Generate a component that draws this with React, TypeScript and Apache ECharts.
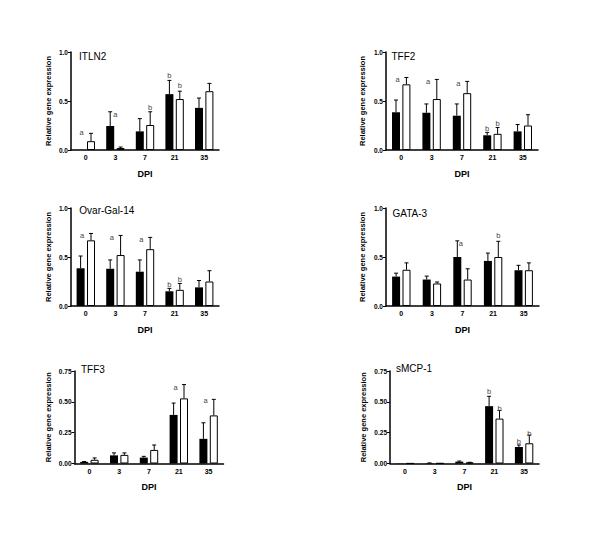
import React, { useEffect, useRef } from "react";
import * as echarts from "echarts";

const CATEGORIES = ["0", "3", "7", "21", "35"];

// ITLN2
const ITLN2_BLACK = [0, 0.245, 0.19, 0.57, 0.43];
const ITLN2_BLACK_ERR = [0, 0.39, 0.32, 0.71, 0.53];
const ITLN2_WHITE = [0.09, 0.02, 0.255, 0.52, 0.6];
const ITLN2_WHITE_ERR = [0.17, 0.03, 0.39, 0.6, 0.68];
const ITLN2_LETTERS = [
  { cat: 0, y: 0.18, text: "a", side: -0.8 },
  { cat: 1, y: 0.365, text: "a", side: 0 },
  { cat: 2, y: 0.43, text: "b", side: 1 },
  { cat: 3, y: 0.765, text: "b", side: -1 },
  { cat: 3, y: 0.655, text: "b", side: 1 },
];

// TFF2
const TFF2_BLACK = [0.385, 0.38, 0.35, 0.15, 0.19];
const TFF2_BLACK_ERR = [0.51, 0.47, 0.47, 0.18, 0.26];
const TFF2_WHITE = [0.67, 0.52, 0.58, 0.165, 0.25];
const TFF2_WHITE_ERR = [0.74, 0.72, 0.7, 0.23, 0.36];
const TFF2_LETTERS = [
  { cat: 0, y: 0.72, text: "a", side: -0.7 },
  { cat: 1, y: 0.7, text: "a", side: -0.7 },
  { cat: 2, y: 0.68, text: "a", side: -0.7 },
  { cat: 3, y: 0.22, text: "b", side: -1 },
  { cat: 3, y: 0.27, text: "b", side: 1 },
];

// Ovar-Gal-14
const OVAR_BLACK = [0.385, 0.38, 0.35, 0.15, 0.19];
const OVAR_BLACK_ERR = [0.51, 0.47, 0.47, 0.18, 0.26];
const OVAR_WHITE = [0.67, 0.52, 0.58, 0.165, 0.25];
const OVAR_WHITE_ERR = [0.74, 0.72, 0.7, 0.23, 0.36];
const OVAR_LETTERS = [
  { cat: 0, y: 0.72, text: "a", side: -0.7 },
  { cat: 1, y: 0.7, text: "a", side: -0.7 },
  { cat: 2, y: 0.68, text: "a", side: -0.7 },
  { cat: 3, y: 0.22, text: "b", side: -1 },
  { cat: 3, y: 0.27, text: "b", side: 1 },
];

// GATA-3
const GATA3_BLACK = [0.3, 0.27, 0.5, 0.46, 0.365];
const GATA3_BLACK_ERR = [0.335, 0.305, 0.665, 0.54, 0.415];
const GATA3_WHITE = [0.37, 0.23, 0.27, 0.5, 0.365];
const GATA3_WHITE_ERR = [0.44, 0.245, 0.38, 0.66, 0.44];
const GATA3_LETTERS = [
  { cat: 2, y: 0.64, text: "a", side: -0.3 },
  { cat: 3, y: 0.72, text: "b", side: 1 },
];

// TFF3
const TFF3_BLACK = [0.013, 0.066, 0.048, 0.394, 0.2];
const TFF3_BLACK_ERR = [0.016, 0.086, 0.058, 0.49, 0.33];
const TFF3_WHITE = [0.03, 0.07, 0.11, 0.528, 0.39];
const TFF3_WHITE_ERR = [0.045, 0.086, 0.15, 0.64, 0.52];
const TFF3_LETTERS = [
  { cat: 3, y: 0.62, text: "a", side: -0.6 },
  { cat: 4, y: 0.51, text: "a", side: -0.6 },
];

// sMCP-1
const SMCP1_BLACK = [0.002, 0.004, 0.015, 0.465, 0.134];
const SMCP1_BLACK_ERR = [0.002, 0.005, 0.02, 0.545, 0.15];
const SMCP1_WHITE = [0.001, 0.002, 0.008, 0.364, 0.164];
const SMCP1_WHITE_ERR = [0.001, 0.002, 0.01, 0.43, 0.23];
const SMCP1_LETTERS = [
  { cat: 3, y: 0.58, text: "b", side: -1 },
  { cat: 3, y: 0.45, text: "b", side: 1 },
  { cat: 4, y: 0.18, text: "b", side: -1 },
  { cat: 4, y: 0.245, text: "b", side: 1 },
];

const PANELS = [
  { title: "ITLN2", black: ITLN2_BLACK, blackErr: ITLN2_BLACK_ERR, white: ITLN2_WHITE, whiteErr: ITLN2_WHITE_ERR, letters: ITLN2_LETTERS, max: 1, interval: 0.5, digits: 1 },
  { title: "TFF2", black: TFF2_BLACK, blackErr: TFF2_BLACK_ERR, white: TFF2_WHITE, whiteErr: TFF2_WHITE_ERR, letters: TFF2_LETTERS, max: 1, interval: 0.5, digits: 1 },
  { title: "Ovar-Gal-14", black: OVAR_BLACK, blackErr: OVAR_BLACK_ERR, white: OVAR_WHITE, whiteErr: OVAR_WHITE_ERR, letters: OVAR_LETTERS, max: 1, interval: 0.5, digits: 1 },
  { title: "GATA-3", black: GATA3_BLACK, blackErr: GATA3_BLACK_ERR, white: GATA3_WHITE, whiteErr: GATA3_WHITE_ERR, letters: GATA3_LETTERS, max: 1, interval: 0.5, digits: 1 },
  { title: "TFF3", black: TFF3_BLACK, blackErr: TFF3_BLACK_ERR, white: TFF3_WHITE, whiteErr: TFF3_WHITE_ERR, letters: TFF3_LETTERS, max: 0.75, interval: 0.25, digits: 2 },
  { title: "sMCP-1", black: SMCP1_BLACK, blackErr: SMCP1_BLACK_ERR, white: SMCP1_WHITE, whiteErr: SMCP1_WHITE_ERR, letters: SMCP1_LETTERS, max: 0.75, interval: 0.25, digits: 2 },
];

// layout (pixels)
const LAYOUT = [
  { left: 71, top: 52, width: 148, height: 98, yGap: 18.5, tx: 79, ty: 56.5 },
  { left: 386, top: 52, width: 152, height: 98, yGap: 19.5, tx: 391.5, ty: 56 },
  { left: 71, top: 208, width: 148, height: 98, yGap: 18.5, tx: 79.3, ty: 210 },
  { left: 386, top: 208, width: 153, height: 98, yGap: 19.5, tx: 392.5, ty: 213 },
  { left: 74.5, top: 371, width: 149, height: 92.5, yGap: 22.5, tx: 81, ty: 369.5 },
  { left: 390, top: 371, width: 149, height: 92.5, yGap: 22.5, tx: 396, ty: 368.5 },
];

const FONT = "Liberation Sans, Arial, sans-serif";
const BAR_W = 8;
const HALF_STEP = 5.2;

function buildOption() {
  const grid: any[] = [];
  const xAxis: any[] = [];
  const yAxis: any[] = [];
  const series: any[] = [];
  const graphic: any[] = [];

  PANELS.forEach((p, i) => {
    const L = LAYOUT[i];
    grid.push({ left: L.left, top: L.top, width: L.width, height: L.height, containLabel: false });
    xAxis.push({
      type: "category",
      gridIndex: i,
      data: CATEGORIES,
      name: "DPI",
      nameLocation: "middle",
      nameGap: 19,
      nameTextStyle: { fontFamily: FONT, fontWeight: "bold", fontSize: 9, color: "#000" },
      axisLine: { lineStyle: { color: "#000", width: 1.5 } },
      axisTick: { alignWithLabel: true, length: 3, lineStyle: { color: "#000", width: 1 } },
      axisLabel: { fontFamily: FONT, fontWeight: "bold", fontSize: 7, color: "#000", margin: 4 },
      splitLine: { show: false },
    });
    yAxis.push({
      type: "value",
      gridIndex: i,
      min: 0,
      max: p.max,
      interval: p.interval,
      name: "Relative gene expression",
      nameLocation: "middle",
      nameGap: L.yGap,
      nameRotate: 90,
      nameTextStyle: { fontFamily: FONT, fontWeight: "bold", fontSize: 7.5, color: "#000" },
      axisLine: { show: true, lineStyle: { color: "#000", width: 1.5 } },
      axisTick: { show: true, length: 3, lineStyle: { color: "#000", width: 1 } },
      axisLabel: {
        fontFamily: FONT,
        fontWeight: "bold",
        fontSize: 6.5,
        color: "#000",
        margin: 3,
        formatter: (v: number) => v.toFixed(p.digits),
      },
      splitLine: { show: false },
    });

    series.push({
      type: "bar",
      xAxisIndex: i,
      yAxisIndex: i,
      data: p.black,
      barWidth: BAR_W,
      barGap: "30%",
      itemStyle: { color: "#000" },
      silent: true,
    });
    series.push({
      type: "bar",
      xAxisIndex: i,
      yAxisIndex: i,
      data: p.white,
      barWidth: BAR_W,
      barGap: "30%",
      itemStyle: { color: "#fff", borderColor: "#000", borderWidth: 1 },
      silent: true,
    });

    const errSeries = (vals: number[], errs: number[], side: number) => ({
      type: "custom",
      xAxisIndex: i,
      yAxisIndex: i,
      z: 5,
      silent: true,
      data: vals.map((v, k) => [k, v, errs[k]]),
      encode: { x: 0, y: [1, 2] },
      renderItem: (params: any, api: any) => {
        const c = api.value(0);
        const v = api.value(1);
        const e = api.value(2);
        if (!(e > v)) return null;
        const base = api.coord([c, v]);
        const top = api.coord([c, e]);
        const x = base[0] + side * HALF_STEP;
        return {
          type: "group",
          children: [
            { type: "line", shape: { x1: x, y1: base[1], x2: x, y2: top[1] }, style: { stroke: "#000", lineWidth: 1 } },
            { type: "line", shape: { x1: x - 2, y1: top[1], x2: x + 2, y2: top[1] }, style: { stroke: "#000", lineWidth: 1 } },
          ],
        };
      },
    });
    series.push(errSeries(p.black, p.blackErr, -1));
    series.push(errSeries(p.white, p.whiteErr, 1));

    const letters = p.letters;
    series.push({
      type: "custom",
      xAxisIndex: i,
      yAxisIndex: i,
      z: 6,
      silent: true,
      data: letters.map((l) => [l.cat, l.y]),
      encode: { x: 0, y: 1 },
      renderItem: (params: any, api: any) => {
        const l = letters[params.dataIndex];
        const pt = api.coord([api.value(0), api.value(1)]);
        return {
          type: "text",
          x: pt[0] + l.side * HALF_STEP,
          y: pt[1],
          style: {
            text: l.text,
            fill: "#444",
            font: `7.5px ${FONT}`,
            textAlign: "center",
            textVerticalAlign: "middle",
          },
        };
      },
    });

    graphic.push({
      type: "text",
      x: L.tx,
      y: L.ty,
      style: {
        text: p.title,
        fill: "#000",
        font: `10px ${FONT}`,
        textAlign: "left",
        textVerticalAlign: "middle",
      },
    });
  });

  return {
    animation: false,
    backgroundColor: "#fff",
    grid,
    xAxis,
    yAxis,
    series,
    graphic,
  };
}

export default function App() {
  const ref = useRef<HTMLDivElement>(null);
  useEffect(() => {
    if (!ref.current) return;
    const chart = echarts.init(ref.current, undefined, { renderer: "svg" });
    chart.setOption(buildOption() as any);
    return () => chart.dispose();
  }, []);
  return (
    <div
      ref={ref}
      style={{ position: "fixed", left: 0, top: 0, width: 600, height: 543, background: "#fff" }}
    />
  );
}
